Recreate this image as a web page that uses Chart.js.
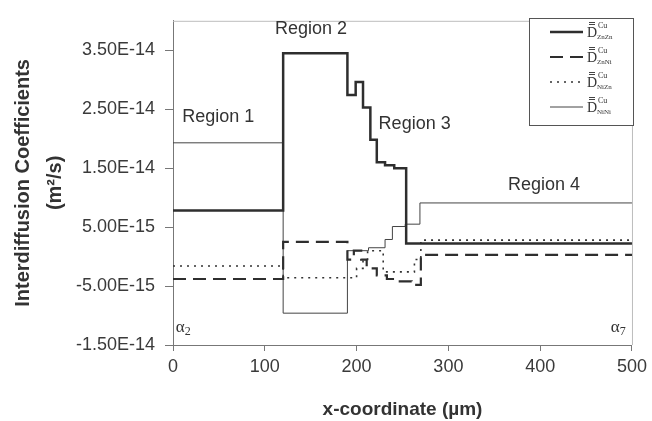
<!DOCTYPE html>
<html>
<head>
<meta charset="utf-8">
<script src="https://cdn.jsdelivr.net/npm/chart.js@4.4.0/dist/chart.umd.min.js"></script>
<style>
  html, body { margin: 0; padding: 0; background: #fff; }
  canvas { display: block; }
</style>
</head>
<body>
<canvas id="chart" width="652" height="421"></canvas>
<script>
// ── Datos: cada serie es una escalera, x = inicio del escalón (µm), y = valor (m²/s)
const znznX = [0, 120, 190, 199, 207, 215, 222, 231, 241, 254, 500];
const znznY = [7.8e-15, 3.45e-14, 2.74e-14, 2.96e-14, 2.53e-14, 1.98e-14, 1.60e-14, 1.55e-14, 1.50e-14, 2.2e-15, 2.2e-15];

const znniX = [0, 120, 190, 197, 205, 211, 222, 233, 245, 260, 270, 500];
const znniY = [-3.8e-15, 2.5e-15, -5e-16, 1.0e-15, -5e-16, -2.0e-15, -3.2e-15, -3.8e-15, -4.2e-15, -4.8e-15, 3e-16, 3e-16];

const nizn_X = [0, 120, 200, 207, 212, 229, 263, 270, 500];
const niznY = [-1.6e-15, -3.6e-15, -2.0e-15, -5e-16, 1.0e-15, -2.6e-15, -5e-16, 2.8e-15, 2.8e-15];

const niniX = [0, 120, 190, 213, 231, 239, 253, 269, 500];
const niniY = [1.93e-14, -9.6e-15, 1.0e-15, 1.5e-15, 2.9e-15, 5.1e-15, 5.5e-15, 9.1e-15, 9.1e-15];

const seriesSubs = ['ZnZn', 'ZnNi', 'NiZn', 'NiNi'];
const yTicks = [-1.5e-14, -5e-15, 5e-15, 1.5e-14, 2.5e-14, 3.5e-14];
const xTicks = [0, 100, 200, 300, 400, 500];
const regionLabels = ['Region 1', 'Region 2', 'Region 3', 'Region 4'];

const pts = (xs, ys) => xs.map((x, i) => ({ x, y: ys[i] }));
const INK = '#2e2e2e';
const FONT = '"Liberation Sans", Arial, sans-serif';

// ── Leyenda, rótulos de región y marco ───────────────────
const extras = {
  id: 'extras',
  beforeDatasetsDraw(chart) {
    const { ctx, chartArea: a } = chart;
    ctx.save();
    ctx.strokeStyle = '#bdbdbd';
    ctx.lineWidth = 1;
    ctx.beginPath();
    ctx.moveTo(a.left, a.top + 0.5);
    ctx.lineTo(a.right + 0.5, a.top + 0.5);
    ctx.lineTo(a.right + 0.5, a.bottom);
    ctx.stroke();
    ctx.restore();
  },
  afterDatasetsDraw(chart) {
    const { ctx, scales: { x, y } } = chart;
    ctx.save();
    ctx.fillStyle = '#333';
    ctx.textAlign = 'left';
    ctx.textBaseline = 'middle';
    ctx.font = '18px ' + FONT;
    const spots = [[10, 2.36e-14], [111, 3.86e-14], [224, 2.25e-14], [365, 1.22e-14]];
    regionLabels.forEach((t, i) => {
      ctx.fillText(t, x.getPixelForValue(spots[i][0]), y.getPixelForValue(spots[i][1]));
    });

    // fases alfa
    [['2', 3], ['7', 477]].forEach(([s, xv]) => {
      const px = x.getPixelForValue(xv), py = y.getPixelForValue(-1.2e-14);
      ctx.font = '17px "Liberation Serif", serif';
      ctx.fillText('α', px, py);
      ctx.font = '12px "Liberation Serif", serif';
      ctx.fillText(s, px + 9, py + 5);
    });

    // leyenda
    ctx.fillStyle = '#fff';
    ctx.fillRect(529, 18, 104, 107);
    ctx.strokeStyle = '#555';
    ctx.lineWidth = 1;
    ctx.strokeRect(529.5, 18.5, 104, 107);
    chart.data.datasets.forEach((ds, i) => {
      const ly = 32 + i * 25;
      ctx.beginPath();
      ctx.setLineDash(ds.borderDash || []);
      ctx.lineWidth = ds.borderWidth;
      ctx.strokeStyle = ds.borderColor;
      ctx.moveTo(550, ly);
      ctx.lineTo(583, ly);
      ctx.stroke();
      ctx.setLineDash([]);

      ctx.fillStyle = '#333';
      ctx.textBaseline = 'alphabetic';
      ctx.font = '14px "Liberation Serif", serif';
      ctx.fillText('D', 587, ly + 5);
      ctx.strokeStyle = '#444';
      ctx.lineWidth = 1;
      ctx.beginPath();
      ctx.moveTo(589, ly - 7.5); ctx.lineTo(595, ly - 7.5);
      ctx.moveTo(589, ly - 9.5); ctx.lineTo(595, ly - 9.5);
      ctx.stroke();
      ctx.font = '8px "Liberation Serif", serif';
      ctx.fillText('Cu', 598, ly - 4);
      ctx.font = '7px "Liberation Serif", serif';
      ctx.fillText(seriesSubs[i], 597, ly + 7);
    });
    ctx.restore();
  }
};

new Chart(document.getElementById('chart'), {
  type: 'line',
  data: {
    datasets: [
      { data: pts(znznX, znznY), borderColor: INK, borderWidth: 2.5 },
      { data: pts(znniX, znniY), borderColor: INK, borderWidth: 2.2, borderDash: [13, 7] },
      { data: pts(nizn_X, niznY), borderColor: '#333', borderWidth: 1.6, borderDash: [2, 5] },
      { data: pts(niniX, niniY), borderColor: '#444', borderWidth: 1 }
    ].map(d => ({ ...d, stepped: 'before', pointRadius: 0, fill: false, borderCapStyle: 'butt' }))
  },
  options: {
    responsive: false,
    animation: false,
    layout: { padding: { top: 11, right: 18, left: 0, bottom: 0 } },
    plugins: { legend: { display: false }, tooltip: { enabled: false } },
    scales: {
      x: {
        type: 'linear', min: 0, max: 500,
        afterBuildTicks: s => { s.ticks = xTicks.map(v => ({ value: v })); },
        afterFit: s => { s.height = 76; },
        grid: { drawOnChartArea: false, drawTicks: true, tickLength: 6, color: '#777' },
        border: { color: '#777', width: 1 },
        ticks: { color: '#3a3a3a', padding: 5, font: { family: FONT, size: 18 } },
        title: {
          display: true, text: 'x-coordinate (µm)', color: '#333',
          padding: { top: 0, bottom: 0 },
          font: { family: FONT, size: 19, weight: 'bold', lineHeight: 1.2 }
        }
      },
      y: {
        type: 'linear', min: -1.5e-14, max: 4e-14,
        afterBuildTicks: s => { s.ticks = yTicks.map(v => ({ value: v })); },
        afterFit: s => { s.width = 173; },
        grid: { drawOnChartArea: false, drawTicks: true, tickLength: 8, color: '#777' },
        border: { color: '#777', width: 1 },
        ticks: {
          color: '#3a3a3a', padding: 10, font: { family: FONT, size: 18 },
          callback: v => Number(v).toExponential(2).toUpperCase()
        },
        title: {
          display: true, text: ['Interdiffusion Coefficients', '(m²/s)'], color: '#333',
          padding: { top: 7, bottom: 0 },
          font: { family: FONT, size: 20, weight: 'bold', lineHeight: 1.6 }
        }
      }
    }
  },
  plugins: [extras]
});
</script>
</body>
</html>
